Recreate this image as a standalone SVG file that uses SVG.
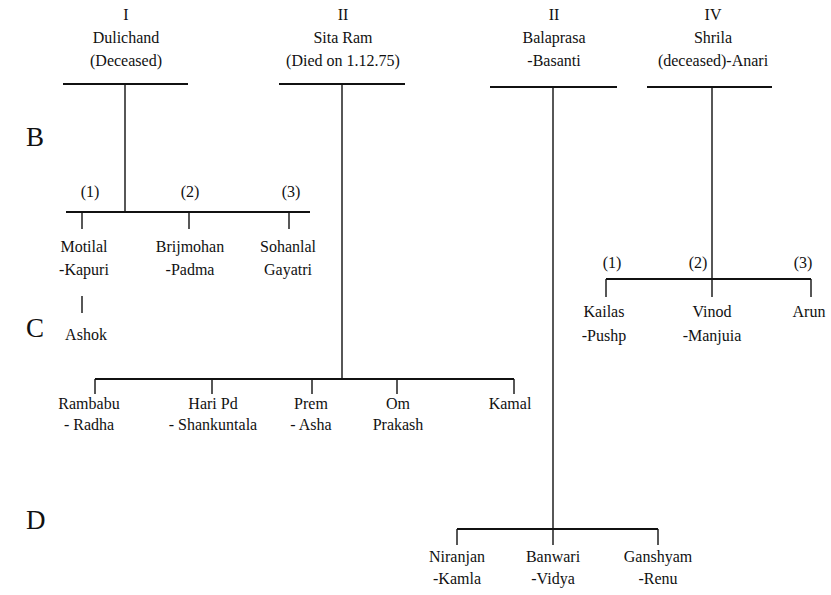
<svg xmlns="http://www.w3.org/2000/svg" width="831" height="595" viewBox="0 0 831 595">
<style>
text{font-family:'Liberation Serif','Times New Roman',serif;font-size:16px;fill:#111;text-anchor:middle}
.gen{font-size:27px;text-anchor:start}
.bar{stroke:#111;stroke-width:2;fill:none}
.ln{stroke:#111;stroke-width:1.4;fill:none}
</style>
<rect width="831" height="595" fill="#fff"/>
<g id="generations">
<text class="gen" x="26" y="146">B</text>
<text class="gen" x="26" y="337">C</text>
<text class="gen" x="26" y="529">D</text>
</g>
<g id="connectors">
<path class="bar" d="M63 84H188M279 84H405M490 87H617M647 87H772"/>
<path class="ln" d="M125 84V212M342 84V379M553 87V529M712 87V297"/>
<path class="bar" d="M66 212H310M606 279H811M95 379H514M457 529H658"/>
<path class="ln" d="M82 212V229M189 212V229M289 212V229M82 296V313"/>
<path class="ln" d="M606 279V297M811 279V297"/>
<path class="ln" d="M95 379V394M212 379V394M312 379V394M397 379V394M514 379V394"/>
<path class="ln" d="M457 529V545M553 529V545M658 529V545"/>
</g>
<g id="n-dulichand"><text x="126" y="20">I</text><text x="126" y="43">Dulichand</text><text x="126" y="66">(Deceased)</text></g>
<g id="n-sitaram"><text x="343" y="20">II</text><text x="343" y="43">Sita Ram</text><text x="343" y="66">(Died on 1.12.75)</text></g>
<g id="n-balaprasa"><text x="554" y="20">II</text><text x="554" y="43">Balaprasa</text><text x="554" y="66">-Basanti</text></g>
<g id="n-shrila"><text x="713" y="20">IV</text><text x="713" y="43">Shrila</text><text x="713" y="66">(deceased)-Anari</text></g>
<g id="n-motilal"><text x="90" y="197">(1)</text><text x="84" y="252">Motilal</text><text x="84" y="275">-Kapuri</text></g>
<g id="n-brijmohan"><text x="190" y="197">(2)</text><text x="190" y="252">Brijmohan</text><text x="190" y="275">-Padma</text></g>
<g id="n-sohanlal"><text x="291" y="197">(3)</text><text x="288" y="252">Sohanlal</text><text x="288" y="275">Gayatri</text></g>
<g id="n-ashok"><text x="86" y="340">Ashok</text></g>
<g id="n-kailas"><text x="612" y="268">(1)</text><text x="604" y="317">Kailas</text><text x="604" y="341">-Pushp</text></g>
<g id="n-vinod"><text x="698" y="268">(2)</text><text x="712" y="317">Vinod</text><text x="712" y="341">-Manjuia</text></g>
<g id="n-arun"><text x="803" y="268">(3)</text><text x="809" y="317">Arun</text></g>
<g id="n-rambabu"><text x="89" y="409">Rambabu</text><text x="89" y="430">- Radha</text></g>
<g id="n-haripd"><text x="213" y="409">Hari Pd</text><text x="213" y="430">- Shankuntala</text></g>
<g id="n-prem"><text x="311" y="409">Prem</text><text x="311" y="430">- Asha</text></g>
<g id="n-omprakash"><text x="398" y="409">Om</text><text x="398" y="430">Prakash</text></g>
<g id="n-kamal"><text x="510" y="409">Kamal</text></g>
<g id="n-niranjan"><text x="457" y="562">Niranjan</text><text x="457" y="584">-Kamla</text></g>
<g id="n-banwari"><text x="553" y="562">Banwari</text><text x="553" y="584">-Vidya</text></g>
<g id="n-ganshyam"><text x="658" y="562">Ganshyam</text><text x="658" y="584">-Renu</text></g>
</svg>
